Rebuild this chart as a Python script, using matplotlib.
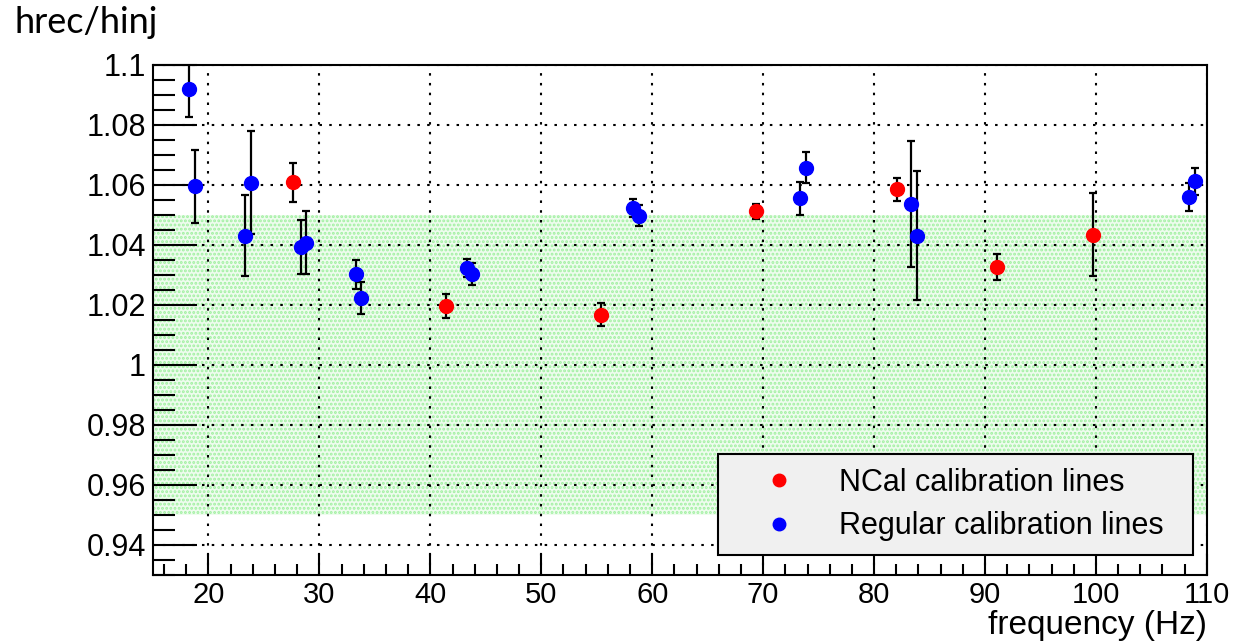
import matplotlib
matplotlib.use("Agg")
from matplotlib import pyplot as plt
from matplotlib.lines import Line2D
from matplotlib.ticker import MultipleLocator

# NCal calibration lines
ncal_freq = [27.6, 41.4, 55.4, 69.4, 82.1, 91.1, 99.7]
ncal_ratio = [1.0609, 1.0197, 1.0167, 1.0512, 1.0586, 1.0326, 1.0434]
ncal_err = [0.0065, 0.0040, 0.0038, 0.0026, 0.0038, 0.0043, 0.0138]

# Regular calibration lines
reg_freq = [18.25, 18.76, 23.28, 23.79, 28.31, 28.79, 33.3, 33.79, 43.3, 43.79,
            58.3, 58.84, 73.35, 73.84, 83.35, 83.87, 108.37, 108.89]
reg_ratio = [1.0920, 1.0595, 1.0430, 1.0608, 1.0392, 1.0408, 1.0302, 1.0224, 1.0324, 1.0303,
             1.0523, 1.0498, 1.0556, 1.0657, 1.0538, 1.0430, 1.0560, 1.0612]
reg_err = [0.0092, 0.0123, 0.0135, 0.0172, 0.0090, 0.0106, 0.0048, 0.0053, 0.0030, 0.0036,
           0.0030, 0.0036, 0.0055, 0.0052, 0.0210, 0.0215, 0.0048, 0.0046]

band_low, band_high = 0.95, 1.05
x_range = (15, 110)
y_range = (0.93, 1.1)

plt.rcParams['font.family'] = ['Liberation Sans', 'DejaVu Sans']
plt.rcParams['hatch.linewidth'] = 1.4

fig = plt.figure(figsize=(12.34, 6.41), dpi=100)
ax = fig.add_axes([0.124, 0.103, 0.854, 0.7956])

ax.fill_between(x_range, band_low, band_high, facecolor='#eefcee', edgecolor='#a0f0a0',
                hatch='....', linewidth=0, zorder=1)

for spine in ax.spines.values():
    spine.set_linewidth(1.5)

ax.grid(True, which='major', color='black', linestyle=(0, (1.2, 3.5)), linewidth=1.5, zorder=2)

err_style = dict(fmt='o', ms=10, ecolor='black', elinewidth=1.6, capsize=3, capthick=1.6, zorder=5)
ax.errorbar(ncal_freq, ncal_ratio, yerr=ncal_err, color='red', mec='red', **err_style)
ax.errorbar(reg_freq, reg_ratio, yerr=reg_err, color='blue', mec='blue', **err_style)

ax.set_xlim(*x_range)
ax.set_ylim(*y_range)
ax.xaxis.set_major_locator(MultipleLocator(10))
ax.xaxis.set_minor_locator(MultipleLocator(2))
ax.yaxis.set_minor_locator(MultipleLocator(0.005))
ax.set_yticks([0.94, 0.96, 0.98, 1.0, 1.02, 1.04, 1.06, 1.08, 1.1])
ax.set_yticklabels(['0.94', '0.96', '0.98', '1', '1.02', '1.04', '1.06', '1.08', '1.1'])

ax.tick_params(axis='x', which='major', direction='in', length=15, width=1.5, labelsize=21, pad=4)
ax.tick_params(axis='x', which='minor', direction='in', length=8, width=1.5)
ax.tick_params(axis='y', which='major', direction='in', length=32, width=1.5, labelsize=22, pad=5)
ax.tick_params(axis='y', which='minor', direction='in', length=16, width=1.5)

ax.set_xlabel('frequency (Hz)', fontsize=24, loc='right', labelpad=1)
fig.text(0.012, 0.965, 'hrec/hinj', fontsize=26, family=['Lato', 'DejaVu Sans'], va='center', ha='left')

handles = [
    Line2D([], [], marker='o', ls='none', ms=9, color='red', label='NCal calibration lines'),
    Line2D([], [], marker='o', ls='none', ms=9, color='blue', label='Regular calibration lines'),
]
leg = ax.legend(handles=handles, loc='lower left', bbox_to_anchor=(0.536, 0.039, 0.451, 0.212),
                mode='expand', fontsize=22, frameon=True, fancybox=False, borderaxespad=0,
                borderpad=0.45, labelspacing=0.45, handlelength=3.1, handletextpad=0.4)
leg.get_frame().set_facecolor('#f0f0f0')
leg.get_frame().set_edgecolor('black')
leg.get_frame().set_linewidth(1.5)
leg.get_frame().set_alpha(1)
leg.set_zorder(10)

fig.savefig('out.png', dpi=100)
